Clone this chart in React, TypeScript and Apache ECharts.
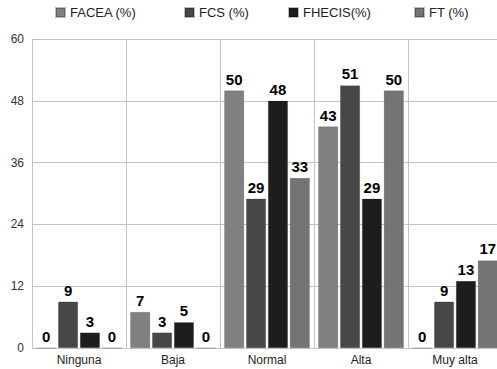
import React, { useEffect, useRef } from "react";
import * as echarts from "echarts";

const categories = ["Ninguna", "Baja", "Normal", "Alta", "Muy alta"];
const seriesNames = ["FACEA (%)", "FCS (%)", "FHECIS(%)", "FT (%)"];
const facea = [0, 7, 50, 43, 0];
const fcs = [9, 3, 29, 51, 9];
const fhecis = [3, 5, 48, 29, 13];
const ft = [0, 0, 33, 50, 17];
const colors = ["#808080", "#474747", "#1d1d1d", "#747474"];
const legendLefts = [55, 184, 288, 414];

const FONT = "'Liberation Sans', Arial, Helvetica, sans-serif";

export default function App() {
  const ref = useRef<HTMLDivElement>(null);

  useEffect(() => {
    if (!ref.current) return;
    const chart = echarts.init(ref.current, undefined, { renderer: "svg" });
    const values = [facea, fcs, fhecis, ft];
    chart.setOption({
      animation: false,
      backgroundColor: "#ffffff",
      textStyle: { fontFamily: FONT },
      legend: seriesNames.map((name, i) => ({
        data: [name],
        left: legendLefts[i],
        top: 4,
        padding: [2, 0, 2, 0],
        itemWidth: 9,
        itemHeight: 9,
        itemGap: 10,
        icon: "rect",
        textStyle: { fontSize: 13, color: "#222", fontFamily: FONT },
      })),
      grid: { left: 32, top: 39, right: 0, bottom: 21, containLabel: false },
      xAxis: {
        type: "category",
        data: categories,
        boundaryGap: true,
        axisLine: { show: true, lineStyle: { color: "#c4c4c4", width: 1 } },
        axisTick: { show: false },
        axisLabel: { fontSize: 12, color: "#222", margin: 6, fontFamily: FONT },
        splitLine: { show: true, lineStyle: { color: "#c4c4c4", width: 1 } },
      },
      yAxis: {
        type: "value",
        min: 0,
        max: 60,
        interval: 12,
        axisLine: { show: true, lineStyle: { color: "#c4c4c4", width: 1 } },
        axisTick: { show: false },
        axisLabel: { fontSize: 12, color: "#333", margin: 8, fontFamily: FONT },
        splitLine: { show: true, lineStyle: { color: "#c4c4c4", width: 1 } },
      },
      series: seriesNames.map((name, i) => ({
        name,
        type: "bar",
        data: values[i],
        barGap: "10%",
        barCategoryGap: "9%",
        itemStyle: {
          color: colors[i],
          borderColor: "rgba(0,0,0,0.25)",
          borderWidth: 0.6,
        },
        label: {
          show: true,
          position: "top",
          distance: 4,
          fontSize: 15,
          fontWeight: "bold",
          color: "#000",
          fontFamily: FONT,
        },
      })),
    });
    return () => chart.dispose();
  }, []);

  return (
    <div
      style={{
        position: "fixed",
        left: 0,
        top: 0,
        width: 497,
        height: 369,
        overflow: "hidden",
        background: "#fff",
      }}
    >
      <div ref={ref} style={{ width: 502, height: 369 }} />
    </div>
  );
}
